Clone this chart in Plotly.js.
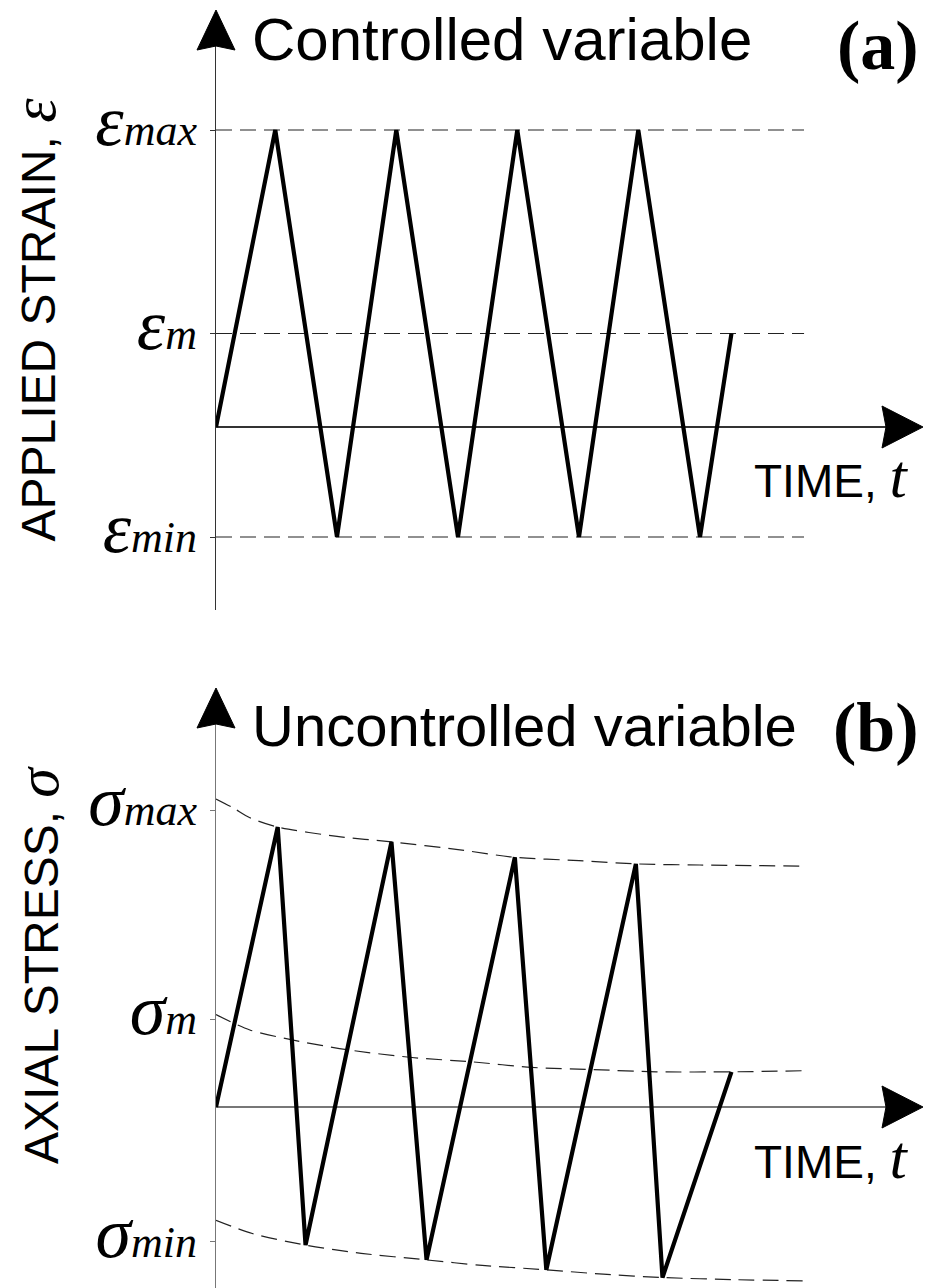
<!DOCTYPE html>
<html><head><meta charset="utf-8">
<script src="https://cdn.plot.ly/plotly-3.0.1.min.js"></script>
<style>html,body{margin:0;padding:0;background:#fff}</style>
</head><body><div id="chart" style="width:925px;height:1288px"></div>
<script>
// ---------- Panel (a): controlled variable (applied strain) ----------
const strainTime  = [0, 0.49, 1.0, 1.49, 2.0, 2.49, 3.0, 3.49, 4.0, 4.26];
const strainValue = [0, 2.7, -1, 2.7, -1, 2.7, -1, 2.7, -1, 0.85];
const strainLevels = [2.7, 0.85, -1];
const strainLevelNames = ['max', 'm', 'min'];
const levelLineTime = [0, 4.86];

// ---------- Panel (b): uncontrolled variable (axial stress) ----------
const stressTime  = [0, 0.51, 0.74, 1.45, 1.74, 2.47, 2.73, 3.47, 3.69, 4.26];
const stressValue = [0, 2.545, -1.255, 2.41, -1.39, 2.27, -1.48, 2.21, -1.55, 0.32];
const sigmaMaxTime = [0, 0.14, 0.28, 0.51, 1.0, 1.45, 2.0, 2.47, 3.0, 3.47, 4.0, 4.86];
const sigmaMaxEnv  = [2.8, 2.72, 2.63, 2.545, 2.46, 2.41, 2.34, 2.27, 2.24, 2.21, 2.2, 2.19];
const sigmaMeanTime = [0, 0.28, 0.63, 1.09, 1.62, 2.12, 2.61, 3.12, 3.64, 4.26, 4.86];
const sigmaMeanEnv  = [0.84, 0.70, 0.61, 0.52, 0.45, 0.41, 0.36, 0.34, 0.32, 0.32, 0.33];
const sigmaMinTime = [0, 0.3, 0.74, 1.2, 1.74, 2.2, 2.73, 3.2, 3.69, 4.3, 4.86];
const sigmaMinEnv  = [-1.03, -1.15, -1.255, -1.33, -1.39, -1.44, -1.48, -1.52, -1.55, -1.57, -1.58];
const stressLevels = [2.7, 0.8, -1.22];
const stressLevelNames = ['max', 'm', 'min'];

const SERIF = 'Liberation Serif', SANS = 'Liberation Sans';
const dashStyle = {color: '#222', width: 1.2, dash: '16px,8px'};
const zigStyle = {color: '#000', width: 4.2};

function greekLabel(sym, size, sub) {
  return '<span style="font-size:' + size + 'px">' + sym + '</span>' + sub;
}

const traces = [];
strainLevels.forEach(v => traces.push({
  x: levelLineTime, y: levelLineTime.map(() => v), xaxis: 'x', yaxis: 'y',
  mode: 'lines', line: dashStyle, hoverinfo: 'skip', showlegend: false
}));
traces.push({x: strainTime, y: strainValue, xaxis: 'x', yaxis: 'y', mode: 'lines',
  line: zigStyle, showlegend: false});

[[sigmaMaxTime, sigmaMaxEnv], [sigmaMeanTime, sigmaMeanEnv], [sigmaMinTime, sigmaMinEnv]].forEach(([t, s]) =>
  traces.push({x: t, y: s, xaxis: 'x2', yaxis: 'y2', mode: 'lines',
    line: Object.assign({shape: 'spline', smoothing: 0.8}, dashStyle), hoverinfo: 'skip', showlegend: false}));
traces.push({x: stressTime, y: stressValue, xaxis: 'x2', yaxis: 'y2', mode: 'lines',
  line: zigStyle, showlegend: false});

const H = 1288;
const xRange = [0, 674 / 121];
const yRangeA = [-(610 - 427) / 110, (427 - 30) / 110];
const yRangeB = [-(1288 - 1107) / 110, (1107 - 710) / 110];

function xAxis() {
  return {range: xRange, domain: [0, 1], showline: false, showgrid: false, zeroline: false,
    showticklabels: false, ticks: '', fixedrange: true};
}
function yAxis(range, domain, vals, names, sym, symSize, title, lineColor, standoff) {
  return {range: range, domain: domain, showline: true, linecolor: lineColor, linewidth: 1.2,
    showgrid: false, zeroline: true, zerolinecolor: lineColor, zerolinewidth: 1.4,
    ticks: 'outside', ticklen: 5, tickcolor: lineColor, tickwidth: 1,
    tickvals: vals, ticktext: names.map(n => greekLabel(sym, symSize, n)),
    tickfont: {family: SERIF, size: 44, style: 'italic', color: '#000'},
    ticklabelstandoff: 4,
    title: {text: title, font: {family: SANS, size: 48, color: '#000'}, standoff: standoff},
    fixedrange: true};
}

function arrowUp(xa, ya, up, down) {
  return {type: 'path', xref: xa + ' domain', yref: ya + ' domain', xsizemode: 'pixel', ysizemode: 'pixel',
    xanchor: 0, yanchor: 1,
    path: 'M0,' + up + ' L-19,' + (-down) + ' L0,' + (-down + 4) + ' L19,' + (-down) + ' Z',
    fillcolor: '#000', line: {color: '#000', width: 1}};
}
function arrowRight(xa, ya, yr) {
  return {type: 'path', xref: xa + ' domain', yref: ya + ' domain', xsizemode: 'pixel', ysizemode: 'pixel',
    xanchor: 1, yanchor: -yr[0] / (yr[1] - yr[0]),
    path: 'M33,0 L-8,21 L-4,0 L-8,-21 Z',
    fillcolor: '#000', line: {color: '#000', width: 1}};
}

function txt(text, x, y, xanchor, font, angle) {
  return {text: text, xref: 'paper', yref: 'paper', x: x, y: y, xanchor: xanchor,
    yanchor: 'middle', showarrow: false, font: font, textangle: angle || 0};
}
const px = v => (v - 216) / 674;
const py = v => 1 - v / H;
const timeLabel = 'TIME, <span style="font-family:' + SERIF + ';font-size:62px"><i>t</i></span>';

const layout = {
  width: 925, height: 1288, paper_bgcolor: '#fff', plot_bgcolor: '#fff',
  margin: {l: 216, r: 35, t: 0, b: 0}, showlegend: false,
  xaxis: xAxis(), xaxis2: Object.assign(xAxis(), {anchor: 'y2'}),
  yaxis: yAxis(yRangeA, [1 - 610 / H, 1 - 30 / H], strainLevels, strainLevelNames, 'ε', 72,
    'APPLIED STRAIN, <span style="font-family:' + SERIF + ';font-size:62px"><i>ε</i></span>', '#333', 42),
  yaxis2: Object.assign(yAxis(yRangeB, [0, 1 - 710 / H], stressLevels, stressLevelNames, 'σ', 72,
    '', '#777', 42), {anchor: 'x2'}),
  shapes: [
    arrowUp('x', 'y', 20, 20), arrowRight('x', 'y', yRangeA),
    arrowUp('x2', 'y2', 22, 18), arrowRight('x2', 'y2', yRangeB)
  ],
  annotations: [
    txt('Controlled variable', px(250), py(40), 'left', {family: SANS, size: 60, color: '#000'}),
    txt('<b>(a)</b>', px(921), py(46), 'right', {family: SERIF, size: 70, color: '#000'}),
    txt(timeLabel, px(910), py(476), 'right', {family: SANS, size: 46, color: '#000'}),
    txt('Uncontrolled variable', px(250), py(725), 'left', {family: SANS, size: 58, color: '#000'}),
    txt('<b>(b)</b>', px(921), py(727), 'right', {family: SERIF, size: 70, color: '#000'}),
    txt(timeLabel, px(910), py(1157), 'right', {family: SANS, size: 46, color: '#000'}),
    txt('AXIAL STRESS, <span style="font-family:' + SERIF + ';font-size:60px"><i>σ</i></span>',
      px(38), py(965), 'center', {family: SANS, size: 48, color: '#000'}, -90)
  ]
};
Plotly.newPlot('chart', traces, layout, {staticPlot: true, displayModeBar: false});
</script></body></html>
